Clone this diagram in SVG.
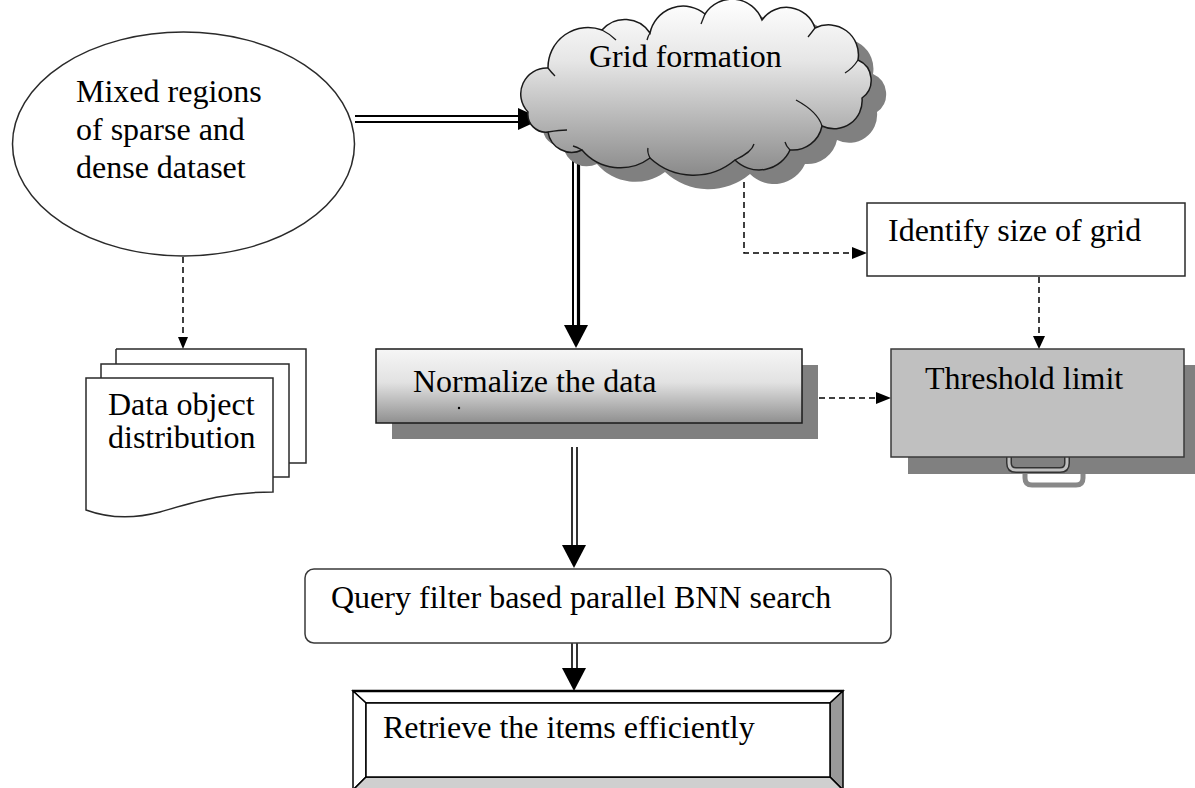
<svg xmlns="http://www.w3.org/2000/svg" width="1195" height="788" viewBox="0 0 1195 788">
  <style>
    text { font-family: "Liberation Serif", "Times New Roman", serif; font-size: 32px; fill: #000; }
    .outline { stroke: #2a2a2a; stroke-width: 1.5; }
    .dash { fill: none; stroke: #000; stroke-width: 1.5; stroke-dasharray: 6 4; }
    .dbl { stroke: #000; fill: none; }
    .head { fill: #000; }
    .shadow { fill: #808080; }
  </style>
  <defs>
    <linearGradient id="cloudFill" x1="0" y1="0" x2="0" y2="1">
      <stop offset="0" stop-color="#ffffff"/>
      <stop offset="0.35" stop-color="#e6e6e6"/>
      <stop offset="1" stop-color="#8a8a8a"/>
    </linearGradient>
    <linearGradient id="barFill" x1="0" y1="0" x2="0" y2="1">
      <stop offset="0" stop-color="#f6f6f6"/>
      <stop offset="0.45" stop-color="#e2e2e2"/>
      <stop offset="1" stop-color="#8f8f8f"/>
    </linearGradient>
    <path id="cloudShape" d="M528,112 A26,26 0 0 1 548,68 A40,40 0 0 1 602,30 A30,30 0 0 1 650,33 A34,34 0 0 1 705,14 A32,32 0 0 1 762,20 A30,30 0 0 1 815,28 A30,30 0 0 1 858,60 A22,22 0 0 1 862,98 A28,28 0 0 1 822,126 A30,30 0 0 1 790,150 A34,34 0 0 1 735,160 A64,64 0 0 1 650,158 A50,50 0 0 1 582,150 A24,24 0 0 1 548,132 A18,18 0 0 1 528,112 Z"/>
  </defs>

  <!-- connectors -->
  <g id="connectors">
    <!-- ellipse to cloud (double line) -->
    <line class="dbl" x1="355" y1="116" x2="522" y2="116" stroke-width="2.2"/>
    <line class="dbl" x1="355" y1="122" x2="522" y2="122" stroke-width="2.2"/>
    <polygon class="head" points="518,108 542,119 518,130"/>

    <!-- cloud down to normalize (double line) -->
    <line class="dbl" x1="573" y1="160" x2="573" y2="330" stroke-width="2"/>
    <line class="dbl" x1="578.5" y1="160" x2="578.5" y2="330" stroke-width="3.2"/>
    <polygon class="head" points="564,325 588,325 576,348"/>

    <!-- normalize down to query (double line) -->
    <line class="dbl" x1="572" y1="447" x2="572" y2="548" stroke-width="1.6"/>
    <line class="dbl" x1="577" y1="447" x2="577" y2="548" stroke-width="1.6"/>
    <polygon class="head" points="562,545 586,545 574,568"/>

    <!-- query down to retrieve (double line) -->
    <line class="dbl" x1="572" y1="643" x2="572" y2="671" stroke-width="1.6"/>
    <line class="dbl" x1="577" y1="643" x2="577" y2="671" stroke-width="1.6"/>
    <polygon class="head" points="562,668 586,668 574,691"/>

    <!-- dashed: ellipse to documents -->
    <line class="dash" x1="183" y1="257" x2="183" y2="338"/>
    <polygon class="head" points="178,337 188,337 183,349"/>

    <!-- dashed: cloud to identify size -->
    <polyline class="dash" points="744,152 744,253 854,253"/>
    <polygon class="head" points="852,247 867,253 852,259"/>

    <!-- dashed: identify size to threshold -->
    <line class="dash" x1="1039" y1="277" x2="1039" y2="338"/>
    <polygon class="head" points="1033,336 1045,336 1039,349"/>

    <!-- dashed: normalize to threshold -->
    <line class="dash" x1="819" y1="398" x2="878" y2="398"/>
    <polygon class="head" points="876,392 891,398 876,404"/>
  </g>

  <!-- source dataset -->
  <g id="mixed-regions">
    <ellipse cx="183.5" cy="144" rx="171" ry="112" fill="#fff" class="outline"/>
    <text x="76" y="102">Mixed regions</text>
    <text x="76" y="140">of sparse and</text>
    <text x="76" y="178">dense dataset</text>
  </g>

  <!-- grid formation cloud -->
  <g id="grid-formation">
    <use href="#cloudShape" class="shadow" transform="translate(15,14)"/>
    <use href="#cloudShape" fill="url(#cloudFill)" stroke="#1a1a1a" stroke-width="1.5"/>
    <!-- inner lobe arcs -->
    <g fill="none" stroke="#1a1a1a" stroke-width="1.3">
      <path d="M548,68 Q551,72 555,76"/>
      <path d="M602,30 Q610,34 616,40"/>
      <path d="M650,33 Q648,36 647,40"/>
      <path d="M705,14 Q703,19 701,24"/>
      <path d="M815,28 Q812,32 808,37"/>
      <path d="M858,60 Q853,68 845,73"/>
      <path d="M822,126 Q818,112 796,100"/>
      <path d="M790,150 Q786,146 785,142"/>
      <path d="M735,160 Q752,152 754,144"/>
      <path d="M650,158 Q647,152 648,148"/>
      <path d="M582,150 Q577,147 573,146"/>
      <path d="M548,132 Q560,130 567,130"/>
    </g>
    <text x="589" y="67">Grid formation</text>
  </g>

  <!-- identify size of grid -->
  <g id="identify-size">
    <rect x="867" y="203" width="318" height="73" fill="#fff" class="outline"/>
    <text x="888" y="241">Identify size of grid</text>
  </g>

  <!-- data object distribution (stacked documents) -->
  <g id="data-object">
    <rect x="116" y="349" width="190" height="114" fill="#fff" stroke="none"/>
    <path d="M116,349 H306 V463 H289 M116,349 V364" fill="none" class="outline"/>
    <rect x="101" y="364" width="188" height="113" fill="#fff" class="outline"/>
    <path d="M86,378 H273 V492 C225,492 195,502 160,512 C130,520 105,517 86,510 Z" fill="#fff" class="outline"/>
    <text x="108" y="415">Data object</text>
    <text x="108" y="448">distribution</text>
  </g>

  <!-- normalize the data -->
  <g id="normalize">
    <rect x="392" y="365" width="426" height="74" class="shadow"/>
    <rect x="376" y="349" width="426" height="74" fill="url(#barFill)" stroke="#1a1a1a" stroke-width="1.5"/>
    <text x="413" y="392">Normalize the data</text>
    <circle cx="459" cy="408" r="1.2" fill="#000"/>
  </g>

  <!-- threshold limit (briefcase-like box) -->
  <g id="threshold">
    <path d="M1025,470 V478 Q1025,485 1032,485 H1076 Q1083,485 1083,478 V470" fill="none" stroke="#888" stroke-width="5"/>
    <rect x="908" y="365" width="290" height="109" class="shadow"/>
    <path d="M1009,455 V463 Q1009,470 1016,470 H1060 Q1067,470 1067,463 V455" fill="none" stroke="#333" stroke-width="6"/>
    <path d="M1009,455 V463 Q1009,470 1016,470 H1060 Q1067,470 1067,463 V455" fill="none" stroke="#c0c0c0" stroke-width="3"/>
    <rect x="891" y="349" width="293" height="108" fill="#c0c0c0" stroke="#3a3a3a" stroke-width="1.5"/>
    <text x="925" y="389">Threshold limit</text>
  </g>

  <!-- query filter -->
  <g id="query-filter">
    <rect x="305" y="569" width="586" height="74" rx="9" ry="9" fill="#fff" stroke="#3a3a3a" stroke-width="1.5"/>
    <text x="331" y="608">Query filter based parallel BNN search</text>
  </g>

  <!-- retrieve the items (bevelled frame) -->
  <g id="retrieve">
    <polygon points="353,691 843,691 830,703 366,703" fill="#fff" stroke="#000" stroke-width="1.5"/>
    <polygon points="353,691 366,703 366,777 353,790" fill="#fff" stroke="#000" stroke-width="1.5"/>
    <polygon points="843,691 843,790 830,777 830,703" fill="#999" stroke="#000" stroke-width="1.5"/>
    <polygon points="353,790 366,777 830,777 843,790" fill="#cfcfcf" stroke="#000" stroke-width="1.5"/>
    <rect x="366" y="703" width="464" height="74" fill="#fff" stroke="#000" stroke-width="1.5"/>
    <line x1="353" y1="691" x2="843" y2="691" stroke="#000" stroke-width="2.5"/>
    <text x="383" y="738">Retrieve the items efficiently</text>
  </g>
</svg>
